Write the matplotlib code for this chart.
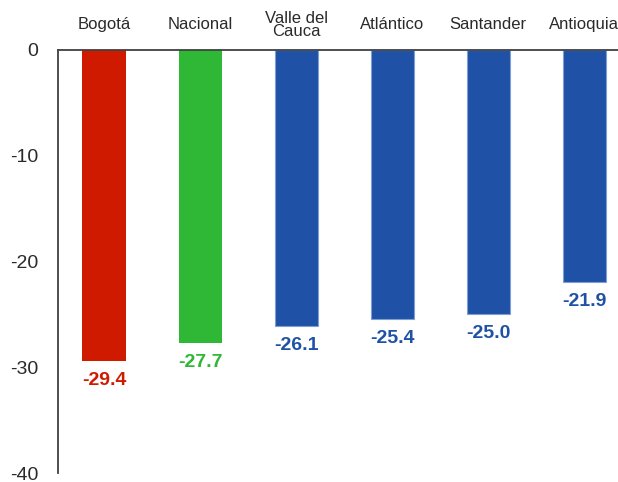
import matplotlib
matplotlib.use('Agg')
import matplotlib.pyplot as plt

# ─── Data ─────────────────────────────────────────────────────────────────────
REGIONS = ['Bogotá', 'Nacional', 'Valle del\nCauca', 'Atlántico', 'Santander', 'Antioquia']
VALUES = [-29.4, -27.7, -26.1, -25.4, -25.0, -21.9]
Y_TICKS = [0, -10, -20, -30, -40]

RED = '#D01A00'
GREEN = '#2EB836'
BLUE = '#1F52A6'
COLORS = [RED, GREEN, BLUE, BLUE, BLUE, BLUE]
EDGES = ['none', 'none', '#7F9ED6', '#7F9ED6', '#7F9ED6', '#7F9ED6']
TXT = '#2A2A2A'

plt.rcParams['font.family'] = ['Liberation Sans', 'DejaVu Sans']

fig = plt.figure(figsize=(6.18, 4.82), dpi=100)
ax = fig.add_axes([58 / 618, 9 / 482, 1 - 58 / 618, 423 / 482])

x = list(range(len(REGIONS)))
ax.bar(x, VALUES, width=0.45, color=COLORS, edgecolor=EDGES,
       linewidth=0.8, zorder=2)

ax.set_xlim(-0.48, 5.35)
ax.set_ylim(-40, 0)

# spines: left + top only
for s in ('right', 'bottom'):
    ax.spines[s].set_visible(False)
for s in ('left', 'top'):
    ax.spines[s].set_color('#404040')
    ax.spines[s].set_linewidth(1.3)
    ax.spines[s].set_zorder(3)

ax.set_xticks([])
ax.set_yticks(Y_TICKS)
ax.set_yticklabels([str(t) for t in Y_TICKS])
ax.tick_params(axis='y', length=0, pad=14, labelsize=14, labelcolor=TXT)

# category labels above the top spine
for xi, name in zip(x, REGIONS):
    ax.text(xi, 1.06, name, transform=ax.get_xaxis_transform(),
            ha='center', va='center', fontsize=12, color=TXT,
            linespacing=0.82, clip_on=False)

# value labels under the bar ends
for xi, v, c in zip(x, VALUES, COLORS):
    ax.annotate(f'{v:.1f}', xy=(xi, v), xytext=(0, -14),
                textcoords='offset points', ha='center', va='center',
                fontsize=14, fontweight='bold', color=c)

fig.savefig('out.png', dpi=100, facecolor='white')
